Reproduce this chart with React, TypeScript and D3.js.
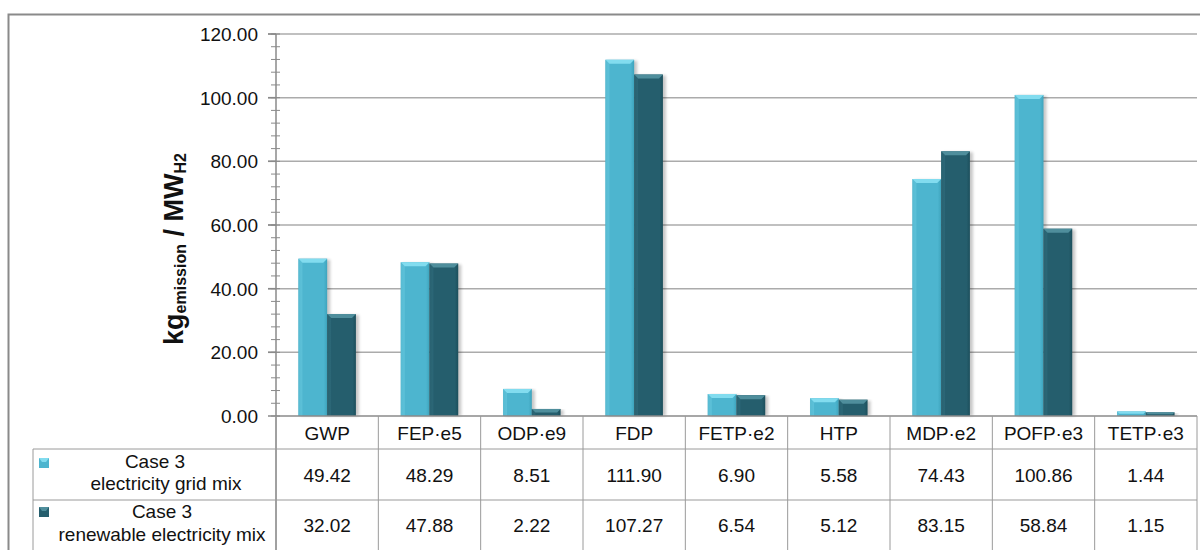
import React from "react";
import * as d3 from "d3";

// Impact categories and the two electricity-mix cases
const categories = ["GWP", "FEP·e5", "ODP·e9", "FDP", "FETP·e2", "HTP", "MDP·e2", "POFP·e3", "TETP·e3"];
const gridMix = [49.42, 48.29, 8.51, 111.9, 6.9, 5.58, 74.43, 100.86, 1.44];
const renewableMix = [32.02, 47.88, 2.22, 107.27, 6.54, 5.12, 83.15, 58.84, 1.15];
const seriesKeys = ["grid", "renewable"];
const seriesLines = [
  ["Case 3", "electricity grid mix"],
  ["Case 3", "renewable electricity mix"],
];
const yTicks = [0, 20, 40, 60, 80, 100, 120];

const W = 1200;
const H = 550;
const axisX = 276;
const rightX = 1197;
const plotTop = 34;
const baseY = 416;
const row1Y = 449;
const row2Y = 500;
const tableLeft = 33;
const font = "'Liberation Sans', Arial, sans-serif";

const palette = {
  grid: { main: "#4db5cf", edge: "#3ea4bd", top: "#82dcef", left: "#63c4dc" },
  renewable: { main: "#255e6d", edge: "#1c4f5c", top: "#4f8e9c", left: "#2f6b7a" },
};

export default function App() {
  const x0 = d3.scaleBand<string>().domain(categories).range([axisX, rightX]).padding(0);
  const x1 = d3.scaleBand<string>().domain(seriesKeys).range([0, x0.bandwidth()]).paddingInner(0).paddingOuter(0.78);
  const y = d3.scaleLinear().domain([0, 120]).range([baseY, plotTop]);
  const minor = d3.range(0, 121, 4);

  const bars: { key: string; cat: string; v: number }[] = [];
  categories.forEach((c, i) => {
    bars.push({ key: "grid", cat: c, v: gridMix[i] });
    bars.push({ key: "renewable", cat: c, v: renewableMix[i] });
  });

  const colEdges = categories.map((c) => x0(c)!).concat([rightX]);

  return (
    <svg width={W} height={H} style={{ position: "absolute", left: 0, top: 0 }} fontFamily={font}>
      <defs>
        {seriesKeys.map((k) => {
          const p = (palette as any)[k];
          return (
            <linearGradient key={k} id={`body-${k}`} x1="0" x2="1" y1="0" y2="0">
              <stop offset="0" stopColor={p.edge} />
              <stop offset="0.12" stopColor={p.main} />
              <stop offset="0.88" stopColor={p.main} />
              <stop offset="1" stopColor={p.edge} />
            </linearGradient>
          );
        })}
        <filter id="soft" x="-20%" y="-5%" width="140%" height="110%">
          <feGaussianBlur stdDeviation="1.6" />
        </filter>
      </defs>
      <rect x={0} y={0} width={W} height={H} fill="#ffffff" />

      {/* outer frame */}
      <path d={`M8.5,${H} V14.5 H${W}`} fill="none" stroke="#8a8a8a" strokeWidth={2} />

      {/* gridlines */}
      {yTicks.slice(1).map((t) => (
        <line key={t} x1={268} x2={rightX} y1={y(t)} y2={y(t)} stroke="#ababab" strokeWidth={1.5} />
      ))}

      {/* bars */}
      {bars.map((b, i) => {
        const p = (palette as any)[b.key];
        const bx = x0(b.cat)! + x1(b.key)!;
        const bw = x1.bandwidth();
        const by = y(b.v);
        const bh = baseY - by;
        const bev = Math.min(4, bh / 2);
        return (
          <g key={i}>
            <rect x={bx + 2} y={by + 1} width={bw + 1} height={bh - 1} fill="#000" opacity={0.22} filter="url(#soft)" />
            <rect x={bx} y={by} width={bw} height={bh} fill={`url(#body-${b.key})`} />
            <polygon
              points={`${bx},${by} ${bx + bev},${by + bev} ${bx + bev},${baseY} ${bx},${baseY}`}
              fill={p.left}
              opacity={0.7}
            />
            <polygon
              points={`${bx},${by} ${bx + bw},${by} ${bx + bw - bev},${by + bev} ${bx + bev},${by + bev}`}
              fill={p.top}
            />
          </g>
        );
      })}

      {/* y axis */}
      <line x1={axisX} x2={axisX} y1={plotTop} y2={H} stroke="#8a8a8a" strokeWidth={1.5} />
      {minor.map((t) => (
        <line key={t} x1={271} x2={280} y1={y(t)} y2={y(t)} stroke="#8a8a8a" strokeWidth={1} />
      ))}
      {yTicks.map((t) => (
        <g key={t}>
          <line x1={268} x2={axisX} y1={y(t)} y2={y(t)} stroke="#8a8a8a" strokeWidth={1.5} />
          <text x={258} y={y(t)} dy="0.36em" textAnchor="end" fontSize={19} fill="#111">
            {d3.format(".2f")(t)}
          </text>
        </g>
      ))}

      {/* y axis title */}
      <text
        transform={`translate(183,${249}) rotate(-90)`}
        textAnchor="middle"
        fontWeight="bold"
        fontSize={27}
        fill="#111"
      >
        kg
        <tspan fontSize={16} dy={3}>emission</tspan>
        <tspan dy={-3}>{" / MW"}</tspan>
        <tspan fontSize={16} dy={3}>H2</tspan>
      </text>

      {/* data table */}
      <line x1={axisX} x2={rightX} y1={baseY} y2={baseY} stroke="#8a8a8a" strokeWidth={1.5} />
      <line x1={tableLeft} x2={rightX} y1={row1Y} y2={row1Y} stroke="#9a9a9a" strokeWidth={1} />
      <line x1={tableLeft} x2={rightX} y1={row2Y} y2={row2Y} stroke="#9a9a9a" strokeWidth={1} />
      <line x1={tableLeft} x2={tableLeft} y1={row1Y} y2={H} stroke="#9a9a9a" strokeWidth={1} />
      {colEdges.map((e, i) => (
        <line key={i} x1={e} x2={e} y1={baseY} y2={H} stroke="#9a9a9a" strokeWidth={1} />
      ))}
      {categories.map((c, i) => {
        const cx = x0(c)! + x0.bandwidth() / 2;
        return (
          <g key={c} fontSize={19} fill="#111" textAnchor="middle">
            <text x={cx} y={440}>{c}</text>
            <text x={cx} y={482}>{d3.format(".2f")(gridMix[i])}</text>
            <text x={cx} y={532}>{d3.format(".2f")(renewableMix[i])}</text>
          </g>
        );
      })}

      {/* legend cells */}
      {seriesKeys.map((k, i) => {
        const p = (palette as any)[k];
        const top = i === 0 ? 458 : 507;
        const lineY = i === 0 ? [468, 490] : [518, 541];
        const lx = i === 0 ? [155, 166] : [162, 162];
        return (
          <g key={k}>
            <rect x={39} y={top} width={10} height={10} fill={p.main} />
            <polygon points={`39,${top} 49,${top} 46,${top + 4} 42,${top + 4}`} fill={p.top} />
            <text x={lx[0]} y={lineY[0]} textAnchor="middle" fontSize={19} fill="#111">
              {seriesLines[i][0]}
            </text>
            <text x={lx[1]} y={lineY[1]} textAnchor="middle" fontSize={19} fill="#111">
              {seriesLines[i][1]}
            </text>
          </g>
        );
      })}
    </svg>
  );
}
